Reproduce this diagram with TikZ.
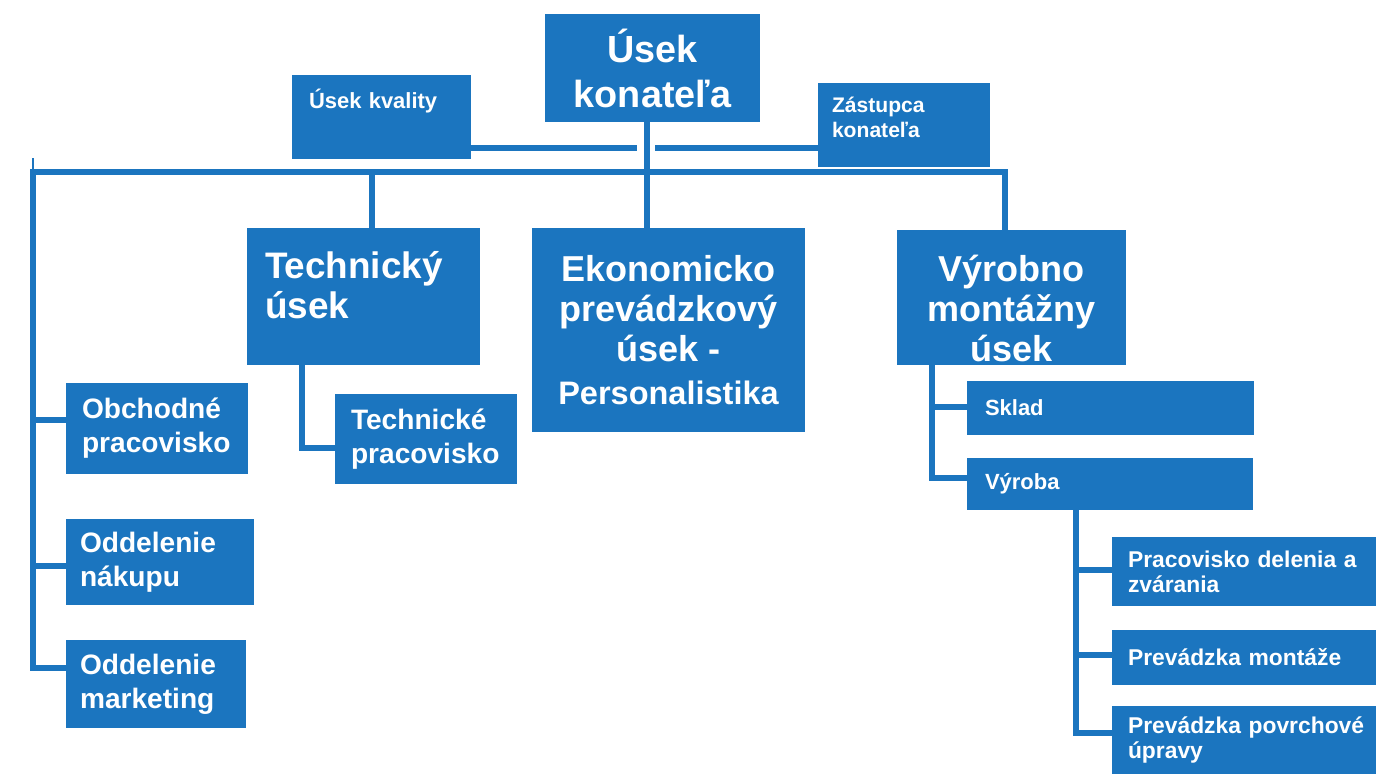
\documentclass[tikz,border=0pt]{standalone}
\usepackage{fontspec}
\setmainfont{Liberation Sans}
\definecolor{blu}{RGB}{27,117,191}
\newcommand\bx[6]{\node[box,minimum width={(#4-#2)*0.02cm},minimum height={(#5-#3)*0.02cm},#6] (#1) at ({(#2+#4)/2},{(#3+#5)/2})}
\begin{document}
\begin{tikzpicture}[x=0.02cm,y=-0.02cm,
  box/.style={fill=blu,text=white,inner sep=0pt},
  big/.style={font=\bfseries\fontsize{20.5}{22.8}\selectfont,align=center},
  mid/.style={font=\bfseries\fontsize{16}{19.3}\selectfont,align=left},
  sml/.style={font=\bfseries\fontsize{12.5}{14.2}\selectfont,align=left},
  smx/.style={font=\bfseries\fontsize{13}{14.4}\selectfont,align=left},
  conn/.style={draw=blu,line width=3.4pt}]
\useasboundingbox (0,0) rectangle (1376,774);

% boxes
\bx{konatel}{545}{14}{760}{122}{big,font=\bfseries\fontsize{21.5}{25.6}\selectfont} {Úsek\\konateľa};
\bx{kvality}{292}{75}{471}{159}{sml,text width=2.9cm,text height=0.35cm,text depth=0.71cm} {Úsek kvality};
\bx{zast}{818}{83}{990}{167}{sml,font=\bfseries\fontsize{12}{14.2}\selectfont,text width=2.88cm,text height=0.3cm,text depth=0.8cm} {Zástupca\\konateľa};
\bx{tech}{247}{228}{480}{365}{big,font=\bfseries\fontsize{21}{22.8}\selectfont,align=left,text width=3.94cm,text height=0.5cm,text depth=1.24cm} {Technický\\úsek};
\bx{ekon}{532}{228}{805}{432}{big} {Ekonomicko\\prevádzkový\\úsek -\\[2pt]\fontsize{18.5}{22}\selectfont Personalistika};
\bx{vyr}{897}{230}{1126}{365}{big,text width=4.4cm,text height=0.5cm,text depth=1.16cm} {Výrobno\\montážny\\úsek};
\bx{techp}{335}{394}{517}{484}{mid,text width=3.0cm} {Technické\\pracovisko};
\bx{obch}{66}{383}{248}{474}{mid,text width=3.0cm} {Obchodné\\pracovisko};
\bx{nak}{66}{519}{254}{605}{mid,text width=3.2cm} {Oddelenie\\nákupu};
\bx{mark}{66}{640}{246}{728}{mid,text width=3.04cm} {Oddelenie\\marketing};
\bx{sklad}{967}{381}{1254}{435}{sml,text width=5.02cm} {Sklad};
\bx{vyroba}{967}{458}{1253}{510}{sml,text width=5.0cm} {Výroba};
\bx{prac}{1112}{537}{1376}{606}{smx,text width=4.64cm} {\mbox{Pracovisko delenia a}\\zvárania};
\bx{mont}{1112}{630}{1376}{685}{smx,text width=4.64cm} {Prevádzka montáže};
\bx{povr}{1112}{706}{1376}{774}{smx,text width=4.64cm} {\mbox{Prevádzka povrchové}\\úpravy};

% helper coordinates
\coordinate (tk) at (647,0);
\coordinate (yq) at (0,148);
\coordinate (gl) at (637,0);
\coordinate (gr) at (655,0);
\coordinate (bl) at (33,172);
\coordinate (br) at (1005,172);
\coordinate (xt) at (372,0);
\coordinate (yo) at (0,420);
\coordinate (yn) at (0,566);
\coordinate (ym) at (0,668);
\coordinate (xtp) at (302,0);
\coordinate (ytp) at (0,448);
\coordinate (xv) at (932,0);
\coordinate (ys) at (0,407);
\coordinate (yvr) at (0,478);
\coordinate (xw) at (1076,0);
\coordinate (yp1) at (0,570);
\coordinate (yp2) at (0,655);
\coordinate (yp3) at (0,733);

% connectors
\draw[conn] (konatel.south -| tk) -- (ekon.north -| tk);
\draw[conn] (kvality.east |- yq) -- (gl |- yq);
\draw[conn] (gr |- yq) -- (zast.west |- yq);
\draw[conn] (vyr.north -| br) -- (br) -- (bl) -- (bl |- ym) -- (mark.west |- ym);
\draw[blu,line width=1pt] (bl) -- ++(0,-14);
\draw[conn] (bl |- yo) -- (obch.west |- yo);
\draw[conn] (bl |- yn) -- (nak.west |- yn);
\draw[conn] (xt |- bl) -- (tech.north -| xt);
\draw[conn] (tech.south -| xtp) -- (xtp |- ytp) -- (techp.west |- ytp);
\draw[conn] (vyr.south -| xv) -- (xv |- yvr) -- (vyroba.west |- yvr);
\draw[conn] (xv |- ys) -- (sklad.west |- ys);
\draw[conn] (vyroba.south -| xw) -- (xw |- yp3) -- (povr.west |- yp3);
\draw[conn] (xw |- yp1) -- (prac.west |- yp1);
\draw[conn] (xw |- yp2) -- (mont.west |- yp2);
\end{tikzpicture}
\end{document}
